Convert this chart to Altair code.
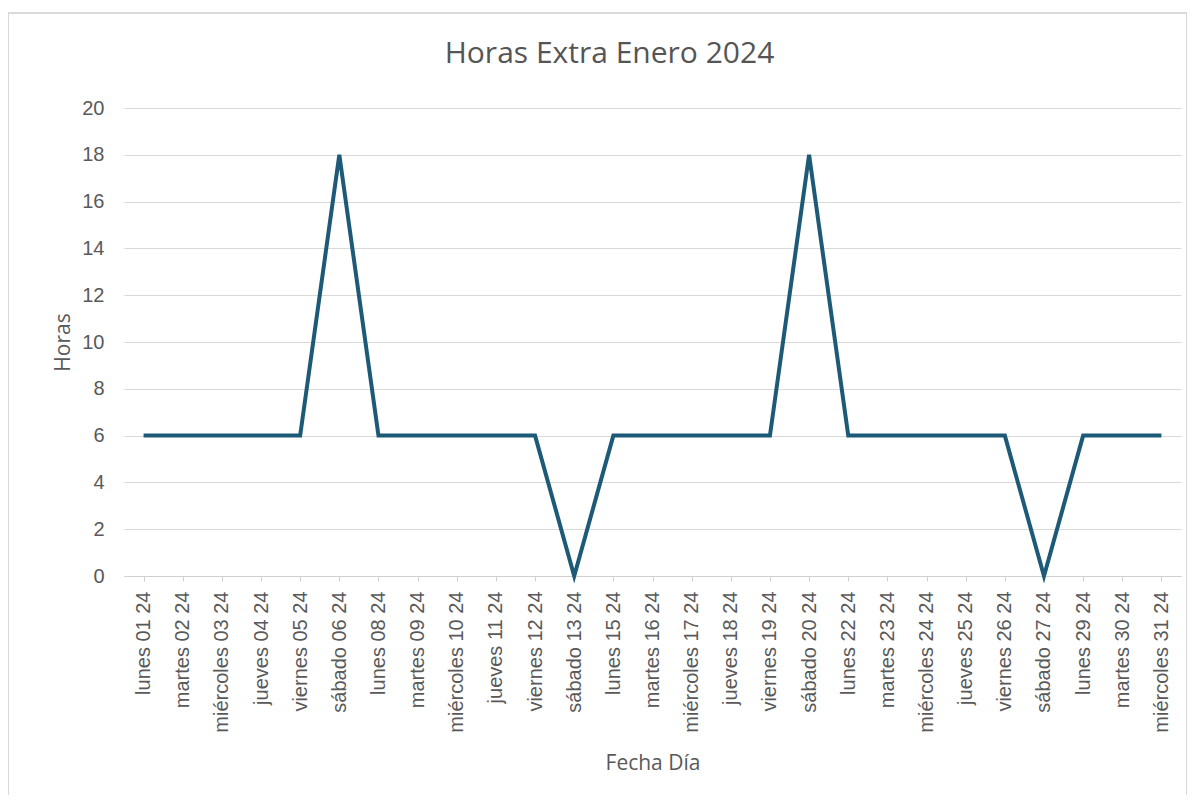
import altair as alt
import pandas as pd

dias = ["lunes 01 24", "martes 02 24", "miércoles 03 24", "jueves 04 24", "viernes 05 24",
        "sábado 06 24", "lunes 08 24", "martes 09 24", "miércoles 10 24", "jueves 11 24",
        "viernes 12 24", "sábado 13 24", "lunes 15 24", "martes 16 24", "miércoles 17 24",
        "jueves 18 24", "viernes 19 24", "sábado 20 24", "lunes 22 24", "martes 23 24",
        "miércoles 24 24", "jueves 25 24", "viernes 26 24", "sábado 27 24", "lunes 29 24",
        "martes 30 24", "miércoles 31 24"]
horas = [6, 6, 6, 6, 6, 18, 6, 6, 6, 6, 6, 0, 6, 6, 6, 6, 6, 18, 6, 6, 6, 6, 6, 0, 6, 6, 6]

df = pd.DataFrame({"dia": dias, "horas": horas})

W, H = 1057, 468
PAD_L, PAD_T = 116, 100
PAD_R = 1179 - PAD_L - W
PAD_B = 787 - PAD_T - H

line = alt.Chart(df).mark_line(color="#1d5a78", strokeWidth=4, strokeJoin="miter", strokeCap="butt").encode(
    x=alt.X("dia:N", sort=dias, title="Fecha Día",
            scale=alt.Scale(paddingInner=1, paddingOuter=0.5),
            axis=alt.Axis(labelAngle=-90, labelFontSize=20, labelColor="#595959",
                          labelFont="Liberation Sans", labelPadding=10,
                          titleFont="Open Sans", titleFontSize=21, titleFontWeight="normal",
                          titleColor="#595959", titlePadding=20,
                          domainColor="#d0d0d0", tickColor="#d0d0d0", tickSize=5,
                          tickBand="extent", grid=False)),
    y=alt.Y("horas:Q", title="Horas",
            scale=alt.Scale(domain=[0, 20], nice=False),
            axis=alt.Axis(values=list(range(0, 21, 2)), labelFontSize=20, labelColor="#595959",
                          labelFont="Liberation Sans", labelPadding=20,
                          titleFont="Open Sans", titleFontSize=21, titleFontWeight="normal",
                          titleColor="#595959", titlePadding=8,
                          domain=False, ticks=False, gridColor="#d9d9d9", gridWidth=1)),
)

border = alt.Chart(df).mark_rect(fill=None, stroke="#d9d9d9", strokeWidth=1).encode(
    x=alt.value(-PAD_L + 0.5), x2=alt.value(1179 - PAD_L - 0.5),
    y=alt.value(5 - PAD_T), y2=alt.value(789 - PAD_T),
)

chart = alt.layer(border, line).properties(
    width=W, height=H,
    background="white",
    title=alt.TitleParams("Horas Extra Enero 2024", font="Open Sans", fontSize=30,
                          fontWeight="normal", color="#555555", offset=-56, anchor="middle",
                          dx=-43),
    padding={"left": PAD_L, "top": PAD_T, "right": PAD_R, "bottom": PAD_B},
    autosize=alt.AutoSizeParams(type="none"),
).configure_view(stroke=None)

chart.save("out.html", embed_options={"renderer": "svg", "actions": False})
